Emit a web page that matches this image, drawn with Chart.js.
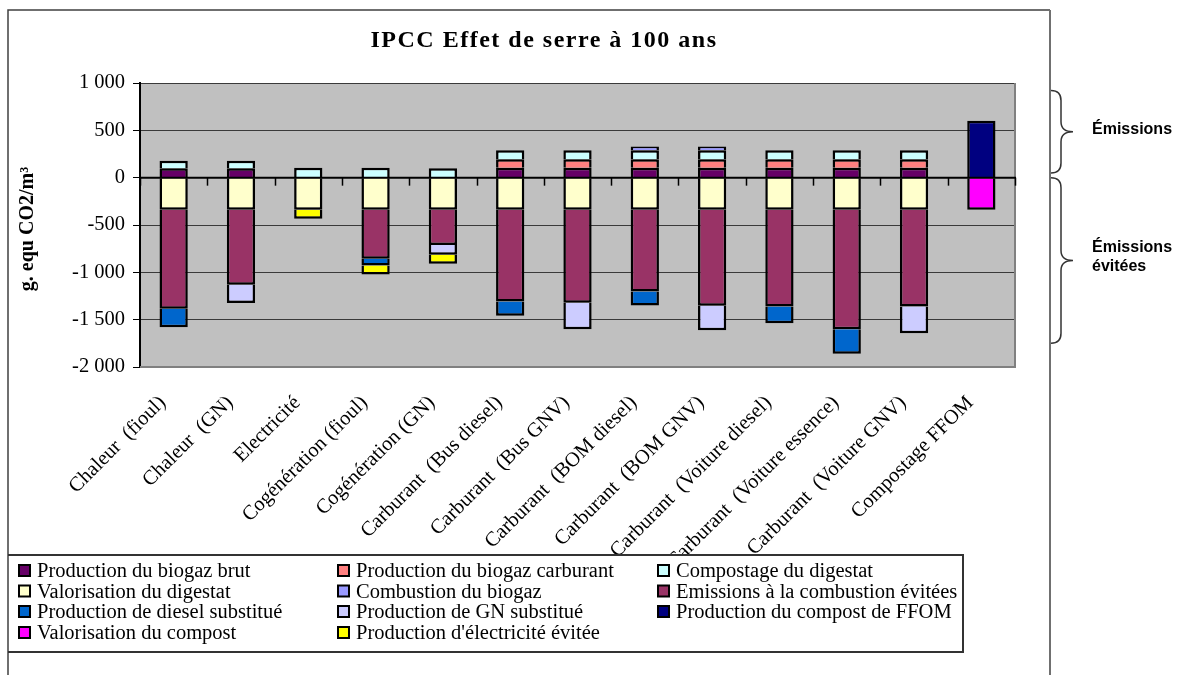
<!DOCTYPE html>
<html>
<head>
<meta charset="utf-8">
<title>IPCC Effet de serre à 100 ans</title>
<script src="https://cdn.jsdelivr.net/npm/chart.js@4.4.0/dist/chart.umd.min.js"></script>
<style>
  html, body { margin: 0; padding: 0; background: #fff; }
  canvas { display: block; }
</style>
</head>
<body>
<canvas id="ghgChart" width="1180" height="675"></canvas>
<script>
"use strict"

// categories (x axis)
const categories = [
    "Chaleur  (fioul)", "Chaleur  (GN)", "Electricité", "Cogénération (fioul)",
    "Cogénération (GN)", "Carburant  (Bus diesel)", "Carburant  (Bus GNV)",
    "Carburant  (BOM diesel)", "Carburant  (BOM GNV)", "Carburant  (Voiture diesel)",
    "Carburant  (Voiture essence)", "Carburant  (Voiture GNV)", "Compostage FFOM"
];

const yTicks = [1000, 500, 0, -500, -1000, -1500, -2000];

// series values, g. equ CO2/m3 (null = no segment)
const biogazBrut           = [100, 100, null, null, null, 105, 105, 105, 105, 105, 105, 105, null];
const biogazCarburant      = [null, null, null, null, null, 90, 90, 90, 90, 90, 90, 90, null];
const compostageDigestat   = [80, 80, 105, 105, 100, 95, 95, 95, 95, 95, 95, 95, null];
const valorisationDigestat = [-340, -340, -340, -340, -340, -340, -340, -340, -340, -340, -340, -340, null];
const combustionBiogaz     = [null, null, null, null, null, null, null, 40, 40, null, null, null, null];
const emissionsEvitees     = [-1045, -790, null, -517, -370, -968, -980, -862, -1013, -1021, -1260, -1021, null];
const dieselSubstitue      = [-195, null, null, -70, null, -151, null, -148, null, -176, -260, null, null];
const gnSubstitue          = [null, -195, null, null, -105, null, -282, null, -260, null, null, -282, null];
const compostFFOM          = [null, null, null, null, null, null, null, null, null, null, null, null, 600];
const valorisationCompost  = [null, null, null, null, null, null, null, null, null, null, null, null, -340];
const electriciteEvitee    = [null, null, -95, -95, -95, null, null, null, null, null, null, null, null];

const series = [
    { label: "Production du biogaz brut", data: biogazBrut, color: "#660066" },
    { label: "Production du biogaz carburant", data: biogazCarburant, color: "#FF8080" },
    { label: "Compostage du digestat", data: compostageDigestat, color: "#CCFFFF" },
    { label: "Valorisation du digestat", data: valorisationDigestat, color: "#FFFFCC" },
    { label: "Combustion du biogaz", data: combustionBiogaz, color: "#9999FF" },
    { label: "Emissions à la combustion évitées", data: emissionsEvitees, color: "#993366" },
    { label: "Production de diesel substitué", data: dieselSubstitue, color: "#0066CC" },
    { label: "Production de GN substitué", data: gnSubstitue, color: "#CCCCFF" },
    { label: "Production du compost de FFOM", data: compostFFOM, color: "#000080" },
    { label: "Valorisation du compost", data: valorisationCompost, color: "#FF00FF" },
    { label: "Production d'électricité évitée", data: electriciteEvitee, color: "#FFFF00" }
];

const SERIF = "'Liberation Serif', 'Times New Roman', serif";
const SANS = "'Liberation Sans', Arial, sans-serif";

function formatFr(v) {
    const s = String(Math.abs(v)).replace(/\B(?=(\d{3})+(?!\d))/g, " ");
    return (v < 0 ? "-" : "") + s;
}

function drawBrace(ctx, x, yTop, yBot, tip) {
    const yMid = (yTop + yBot) / 2;
    const r = 10;
    ctx.beginPath();
    ctx.moveTo(x, yTop);
    ctx.quadraticCurveTo(x + r, yTop, x + r, yTop + r);
    ctx.lineTo(x + r, yMid - r);
    ctx.quadraticCurveTo(x + r, yMid, x + tip, yMid);
    ctx.quadraticCurveTo(x + r, yMid, x + r, yMid + r);
    ctx.lineTo(x + r, yBot - r);
    ctx.quadraticCurveTo(x + r, yBot, x, yBot);
    ctx.stroke();
}

// grey plot background + frame, legend, braces, zero line
const decorations = {
    id: "decorations",
    beforeDraw(chart) {
        const { ctx, chartArea } = chart;
        ctx.save();
        ctx.fillStyle = "#C0C0C0";
        ctx.fillRect(chartArea.left, chartArea.top, chartArea.right - chartArea.left, chartArea.bottom - chartArea.top);
        ctx.restore();
    },
    beforeDatasetsDraw(chart) {
        const { ctx, chartArea } = chart;
        ctx.save();
        ctx.strokeStyle = "#808080";
        ctx.lineWidth = 2;
        ctx.beginPath();
        ctx.moveTo(chartArea.left, chartArea.bottom);
        ctx.lineTo(chartArea.right, chartArea.bottom);
        ctx.lineTo(chartArea.right, chartArea.top);
        ctx.stroke();
        ctx.restore();
    },
    afterDatasetsDraw(chart) {
        const { ctx, chartArea, scales: { x, y } } = chart;
        const y0 = y.getPixelForValue(0);
        ctx.save();
        ctx.strokeStyle = "#000";
        ctx.lineWidth = 2;
        ctx.beginPath();
        ctx.moveTo(chartArea.left, y0);
        ctx.lineTo(chartArea.right + 1, y0);
        ctx.stroke();
        ctx.lineWidth = 1.5;
        for (let i = 0; i <= categories.length; i++) {
            const px = Math.round(x.getPixelForValue(i - 0.5)) + 0.5;
            ctx.beginPath();
            ctx.moveTo(px, y0);
            ctx.lineTo(px, y0 + 8);
            ctx.stroke();
        }
        ctx.restore();
    },
    afterDraw(chart) {
        const { ctx, scales: { y } } = chart;
        ctx.save();

        // outer frame
        ctx.strokeStyle = "#404040";
        ctx.lineWidth = 1.5;
        ctx.beginPath();
        ctx.moveTo(8, 675);
        ctx.lineTo(8, 10);
        ctx.lineTo(1050, 10);
        ctx.stroke();
        ctx.strokeStyle = "#707070";
        ctx.lineWidth = 2;
        ctx.beginPath();
        ctx.moveTo(1050, 10);
        ctx.lineTo(1050, 675);
        ctx.stroke();

        // title
        ctx.fillStyle = "#000";
        ctx.font = "bold 24px " + SERIF;
        ctx.textAlign = "center";
        ctx.textBaseline = "alphabetic";
        ctx.letterSpacing = "1.5px";
        ctx.fillText("IPCC Effet de serre à 100 ans", 544, 47);
        ctx.letterSpacing = "0px";

        // y axis title
        ctx.save();
        ctx.translate(33, 229);
        ctx.rotate(-Math.PI / 2);
        ctx.font = "bold 20px " + SERIF;
        ctx.fillText("g. equ CO2/m³", 0, 0);
        ctx.restore();

        // legend box (white, hides the ends of the long labels)
        ctx.fillStyle = "#fff";
        ctx.fillRect(9, 555, 954, 97);
        ctx.strokeStyle = "#333";
        ctx.lineWidth = 2;
        ctx.beginPath();
        ctx.moveTo(8, 555);
        ctx.lineTo(963, 555);
        ctx.lineTo(963, 652);
        ctx.lineTo(8, 652);
        ctx.stroke();

        const colX = [18, 337, 657];
        const rowY = [571, 591.5, 612, 633];
        ctx.font = "20.5px " + SERIF;
        ctx.textAlign = "left";
        ctx.textBaseline = "middle";
        series.forEach((s, i) => {
            const cx = colX[i % 3];
            const cy = rowY[Math.floor(i / 3)];
            ctx.fillStyle = "#000";
            ctx.fillRect(cx, cy - 7, 13, 13);
            ctx.fillStyle = s.color;
            ctx.fillRect(cx + 2, cy - 5, 9, 9);
            ctx.fillStyle = "#000";
            ctx.fillText(s.label, cx + 19, cy + 1);
        });

        // braces on the right
        ctx.strokeStyle = "#333";
        ctx.lineWidth = 1.5;
        drawBrace(ctx, 1051, y.getPixelForValue(920), y.getPixelForValue(50), 22);
        drawBrace(ctx, 1051, y.getPixelForValue(0), y.getPixelForValue(-1750), 22);
        ctx.font = "bold 16px " + SANS;
        ctx.textBaseline = "alphabetic";
        ctx.fillStyle = "#000";
        ctx.fillText("Émissions", 1092, 134);
        ctx.fillText("Émissions", 1092, 252);
        ctx.fillText("évitées", 1092, 271);

        ctx.restore();
    }
};

new Chart(document.getElementById("ghgChart"), {
    type: "bar",
    data: {
        labels: categories,
        datasets: series.map(s => ({
            label: s.label,
            data: s.data,
            backgroundColor: s.color,
            borderColor: "#000",
            borderWidth: 2.5,
            barPercentage: 0.42,
            categoryPercentage: 1
        }))
    },
    options: {
        responsive: false,
        animation: false,
        layout: {
            padding: { left: 0, right: 165, top: 83, bottom: 0 }
        },
        plugins: {
            legend: { display: false },
            title: { display: false },
            tooltip: { enabled: false }
        },
        scales: {
            x: {
                stacked: true,
                grid: { display: false },
                border: { display: false },
                ticks: {
                    color: "#000",
                    font: { family: SERIF, size: 20.5 },
                    minRotation: 45,
                    maxRotation: 45,
                    autoSkip: false,
                    padding: 16,
                    labelOffset: -11
                },
                afterFit: scale => { scale.height = 308; }
            },
            y: {
                stacked: true,
                min: -2000,
                max: 1000,
                afterBuildTicks: scale => { scale.ticks = yTicks.map(v => ({ value: v })); },
                grid: { color: "#3a3a3a", lineWidth: 1, tickLength: 7, tickColor: "#000" },
                border: { display: true, color: "#000", width: 2 },
                ticks: {
                    color: "#000",
                    font: { family: SERIF, size: 20.5 },
                    padding: 8,
                    callback: v => formatFr(v)
                },
                afterFit: scale => { scale.width = 140; }
            }
        }
    },
    plugins: [decorations]
});
</script>
</body>
</html>
